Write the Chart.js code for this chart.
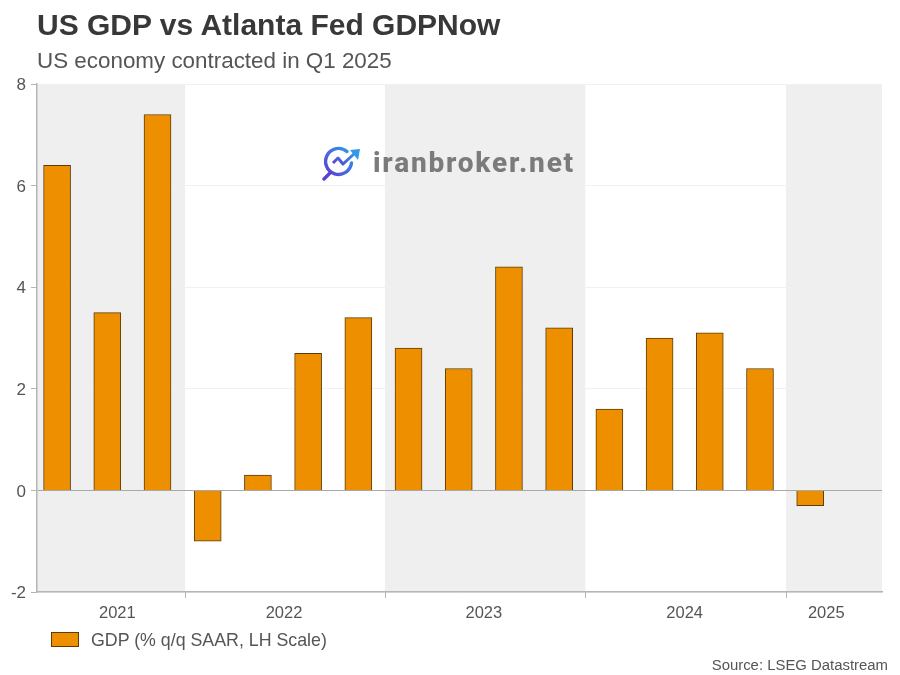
<!DOCTYPE html>
<html>
<head>
<meta charset="utf-8">
<title>US GDP vs Atlanta Fed GDPNow</title>
<script src="https://cdn.jsdelivr.net/npm/chart.js@4"></script>
<style>
html,body{margin:0;padding:0;background:#fff;}
body{width:900px;height:675px;position:relative;overflow:hidden;font-family:"Liberation Sans",Arial,sans-serif;}
canvas{position:absolute;left:0;top:0;}
.txt{position:absolute;white-space:nowrap;}
#title{left:37px;top:8px;font-size:30px;line-height:34px;font-weight:bold;color:#383838;}
#subtitle{left:37px;top:48px;font-size:22.4px;line-height:26px;color:#555;}
#legend{left:51px;top:630px;font-size:17.8px;line-height:20px;color:#555;}
#legend i{position:absolute;left:0;top:2px;width:26px;height:13px;border:1px solid #5c3d0a;}
#legend span{margin-left:40px;}
#source{right:12px;top:656px;font-size:14.9px;line-height:18px;color:#555;}
#mark{left:322px;top:144px;}
#markText{left:373px;top:145px;font-family:"Roboto",sans-serif;font-size:28px;line-height:36px;font-weight:800;color:#7b7b7b;letter-spacing:1.8px;}
</style>
</head>
<body>
<canvas id="chart" width="900" height="675"></canvas>
<div class="txt" id="title">US GDP vs Atlanta Fed GDPNow</div>
<div class="txt" id="subtitle">US economy contracted in Q1 2025</div>
<svg class="txt" id="mark" width="40" height="38" viewBox="0 0 40 38">
  <defs><linearGradient id="g" x1="0" y1="1" x2="1" y2="0"><stop offset="0" stop-color="#5b3fd6"/><stop offset="1" stop-color="#2f9be8"/></linearGradient></defs>
  <path d="M25 7.5 A13 13 0 1 0 29.5 19" fill="none" stroke="url(#g)" stroke-width="3.4" stroke-linecap="round"/>
  <path d="M8 29 L2 35" stroke="#5b3fd6" stroke-width="3.4" stroke-linecap="round"/>
  <path d="M11 19 L16 14 L21 20 L33 9" fill="none" stroke="url(#g)" stroke-width="3" stroke-linejoin="round"/>
  <path d="M28 6 L38 5 L36 16 Z" fill="#2f9be8"/>
</svg>
<div class="txt" id="markText">iranbroker.net</div>
<div class="txt" id="legend"><i id="swatch"></i><span id="legendText"></span></div>
<div class="txt" id="source">Source: LSEG Datastream</div>

<script>
// ---------- DATA ----------
const seriesName = "GDP (% q/q SAAR, LH Scale)";
const quarters = [0,1,2,3,4,5,6,7,8,9,10,11,12,13,14,15];
const gdp = [6.4,3.5,7.4,-1.0,0.3,2.7,3.4,2.8,2.4,4.4,3.2,1.6,3.0,3.1,2.4,-0.3];
const years = ["2021","2022","2023","2024","2025"];
const yearTicks = [1.2,4.52,8.5,12.5,15.32];
const yearEdges = [-0.4,2.55,6.53,10.52,14.52,16.43];
const yTicks = [-2,0,2,4,6,8];

// ---------- COLOURS ----------
const barFill = "#ee8f00";
const barEdge = "#5c3d0a";
const bandFill = "#efefef";
const axisGrey = "#b5b5b5";
const textGrey = "#555555";

document.getElementById("swatch").style.background = barFill;
document.getElementById("legendText").innerText = seriesName;

// shaded years, drawn under the grid
const bandsPlugin = {
    id:"yearBands",
    beforeDraw(chart){
        const ctx = chart.ctx, x = chart.scales.x, area = chart.chartArea;
        ctx.save();
        ctx.fillStyle = bandFill;
        for(let i=0;i<years.length;i+=2){
            const a = x.getPixelForValue(yearEdges[i]);
            const b = x.getPixelForValue(yearEdges[i+1]);
            ctx.fillRect(a,area.top,b-a,area.bottom-area.top);
        }
        ctx.restore();
    },
    afterDraw(chart){
        // tick marks between the years
        const ctx = chart.ctx, x = chart.scales.x, area = chart.chartArea;
        ctx.save();
        ctx.strokeStyle = axisGrey;
        ctx.lineWidth = 1;
        yearEdges.slice(1,-1).forEach(v=>{
            const p = Math.round(x.getPixelForValue(v))+0.5;
            ctx.beginPath();
            ctx.moveTo(p,area.bottom);
            ctx.lineTo(p,area.bottom+6);
            ctx.stroke();
        });
        ctx.restore();
    }
};

new Chart(document.getElementById("chart"), {
    type:"bar",
    data:{
        datasets:[{
            label:seriesName,
            data:gdp.map((v,i)=>({x:quarters[i],y:v})),
            backgroundColor:barFill,
            borderColor:barEdge,
            borderWidth:1,
            barThickness:27
        }]
    },
    options:{
        responsive:false,
        animation:false,
        devicePixelRatio:1,
        layout:{ padding:{ top:84, right:18, bottom:33, left:0 } },
        plugins:{ legend:{ display:false }, title:{ display:false }, tooltip:{ enabled:false } },
        scales:{
            x:{
                type:"linear",
                offset:false,
                min:yearEdges[0],
                max:yearEdges[yearEdges.length-1],
                afterBuildTicks(s){ s.ticks = yearTicks.map(v=>({value:v})); },
                afterFit(s){ s.height = 50; },
                grid:{ display:false, drawTicks:false },
                border:{ color:axisGrey, width:1.5 },
                ticks:{
                    autoSkip:false,
                    maxRotation:0,
                    padding:12,
                    color:textGrey,
                    font:{ family:"Liberation Sans", size:16.5 },
                    callback(v){ return years[yearTicks.indexOf(v)]; }
                }
            },
            y:{
                min:yTicks[0],
                max:yTicks[yTicks.length-1],
                afterBuildTicks(s){ s.ticks = yTicks.map(v=>({value:v})); },
                afterFit(s){ s.width = 37; },
                grid:{
                    color:c=>c.tick.value===0 ? "#a8a8a8" : "#f1f1f1",
                    lineWidth:1,
                    tickColor:axisGrey,
                    tickLength:6
                },
                border:{ color:axisGrey, width:1.5 },
                ticks:{
                    padding:5,
                    labelOffset:1.5,
                    color:textGrey,
                    font:{ family:"Liberation Sans", size:17 }
                }
            }
        }
    },
    plugins:[bandsPlugin]
});
</script>
</body>
</html>
